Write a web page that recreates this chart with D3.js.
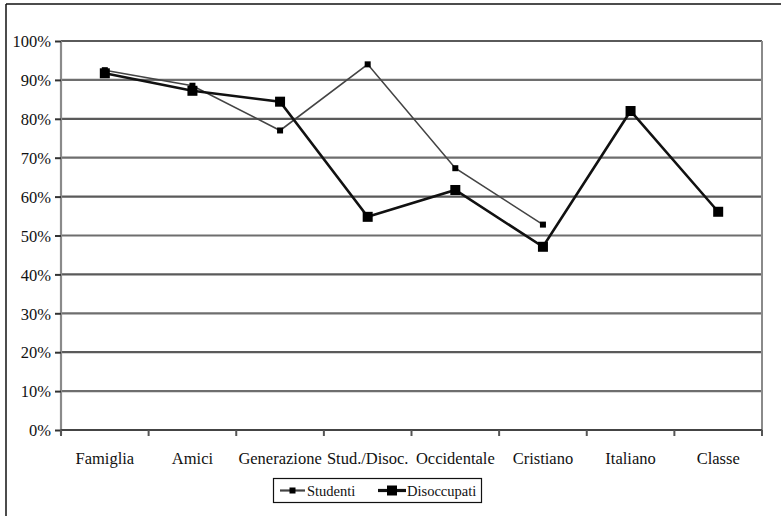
<!DOCTYPE html>
<html>
<head>
<meta charset="utf-8">
<script src="https://cdn.jsdelivr.net/npm/d3@7"></script>
<style>
  html, body { margin: 0; padding: 0; background: #fff; }
  svg { display: block; }
  text { font-family: "Liberation Serif", "Times New Roman", serif; fill: #111; }
</style>
</head>
<body>
<svg id="chart" width="781" height="516"></svg>
<script>
const categories = ["Famiglia", "Amici", "Generazione", "Stud./Disoc.", "Occidentale", "Cristiano", "Italiano", "Classe"];
const studenti    = [0.925, 0.885, 0.77, 0.94, 0.673, 0.528, null, null];
const disoccupati = [0.917, 0.872, 0.844, 0.548, 0.617, 0.471, 0.82, 0.561];
const yTicks = [0, 0.1, 0.2, 0.3, 0.4, 0.5, 0.6, 0.7, 0.8, 0.9, 1.0];
const seriesNames = ["Studenti", "Disoccupati"];

const svg = d3.select("#chart");
const W = 781, H = 516;
const plot = { left: 61, right: 762, top: 41, bottom: 430 };

// outer frame (top and left edges visible in scan)
svg.append("line").attr("x1", 6).attr("x2", W).attr("y1", 4).attr("y2", 4)
  .attr("stroke", "#111").attr("stroke-width", 1.5);
svg.append("line").attr("x1", 6).attr("x2", 6).attr("y1", 4).attr("y2", H)
  .attr("stroke", "#111").attr("stroke-width", 1.5);

const x = d3.scaleBand().domain(categories).range([plot.left, plot.right]).padding(0);
const y = d3.scaleLinear().domain([0, 1]).range([plot.bottom, plot.top]);

// gridlines
svg.append("g").selectAll("line").data(yTicks.filter(d => d > 0)).join("line")
  .attr("x1", plot.left).attr("x2", plot.right)
  .attr("y1", d => y(d)).attr("y2", d => y(d))
  .attr("stroke", (d, i) => i % 2 ? "#5a5a5a" : "#6e6e6e")
  .attr("stroke-width", 2.2);

// right border
svg.append("line").attr("x1", plot.right).attr("x2", plot.right)
  .attr("y1", plot.top).attr("y2", plot.bottom + 6)
  .attr("stroke", "#8a8a8a").attr("stroke-width", 2);

// Y axis
const yAxis = d3.axisLeft(y).tickValues(yTicks).tickFormat(d3.format(".0%"))
  .tickSize(6).tickPadding(4);
const gy = svg.append("g").attr("transform", `translate(${plot.left},0)`).call(yAxis);
gy.select(".domain").attr("stroke", "#8a8a8a").attr("stroke-width", 2.2)
  .attr("d", `M0,${plot.top}V${plot.bottom + 5}`);
gy.selectAll(".tick line").attr("stroke", "#333").attr("stroke-width", 2);
gy.selectAll(".tick text").attr("font-size", "16.5px").attr("fill", "#111")
  .attr("font-family", "Liberation Serif, serif").attr("dy", "0.35em");

// X axis
const xAxis = d3.axisBottom(x).tickSize(0).tickPadding(22);
const gx = svg.append("g").attr("transform", `translate(0,${plot.bottom})`).call(xAxis);
gx.select(".domain").attr("stroke", "#444").attr("stroke-width", 2.2)
  .attr("d", `M${plot.left},0H${plot.right}`);
gx.selectAll(".tick text").attr("font-size", "16.5px").attr("fill", "#111")
  .attr("font-family", "Liberation Serif, serif");
// boundary tick marks
const bounds = categories.map(c => x(c)).concat([plot.right]);
svg.append("g").selectAll("line").data(bounds).join("line")
  .attr("x1", d => d).attr("x2", d => d)
  .attr("y1", plot.bottom).attr("y2", plot.bottom + 6)
  .attr("stroke", "#555").attr("stroke-width", 2);

const cx = c => x(c) + x.bandwidth() / 2;
const series = [
  { name: seriesNames[0], values: studenti, stroke: "#444", sw: 1.6, ms: 6 },
  { name: seriesNames[1], values: disoccupati, stroke: "#111", sw: 2.6, ms: 10 }
];

series.forEach(s => {
  const pts = categories.map((c, i) => ({ c, v: s.values[i] }));
  const line = d3.line().defined(d => d.v != null).x(d => cx(d.c)).y(d => y(d.v));
  svg.append("path").datum(pts).attr("d", line)
    .attr("fill", "none").attr("stroke", s.stroke).attr("stroke-width", s.sw)
    .attr("stroke-linejoin", "miter");
  svg.append("g").selectAll("rect").data(pts.filter(d => d.v != null)).join("rect")
    .attr("x", d => cx(d.c) - s.ms / 2).attr("y", d => y(d.v) - s.ms / 2)
    .attr("width", s.ms).attr("height", s.ms).attr("fill", "#000");
});

// Legend
const lg = svg.append("g");
lg.append("rect").attr("x", 273.5).attr("y", 478.5).attr("width", 208).attr("height", 24)
  .attr("fill", "#fff").attr("stroke", "#111").attr("stroke-width", 1.2);
const legendItems = [
  { s: series[0], x0: 280, x1: 305, tx: 307 },
  { s: series[1], x0: 378, x1: 406, tx: 407 }
];
legendItems.forEach(it => {
  const yy = 490.5;
  lg.append("line").attr("x1", it.x0).attr("x2", it.x1).attr("y1", yy).attr("y2", yy)
    .attr("stroke", it.s.stroke).attr("stroke-width", it.s.sw + 0.6);
  const m = it.s.ms;
  const mx = (it.x0 + it.x1) / 2;
  lg.append("rect").attr("x", mx - m / 2).attr("y", yy - m / 2).attr("width", m).attr("height", m).attr("fill", "#000");
  lg.append("text").attr("x", it.tx).attr("y", yy).attr("dy", "0.35em")
    .attr("font-size", "14.5px").text(it.s.name);
});
</script>
</body>
</html>
